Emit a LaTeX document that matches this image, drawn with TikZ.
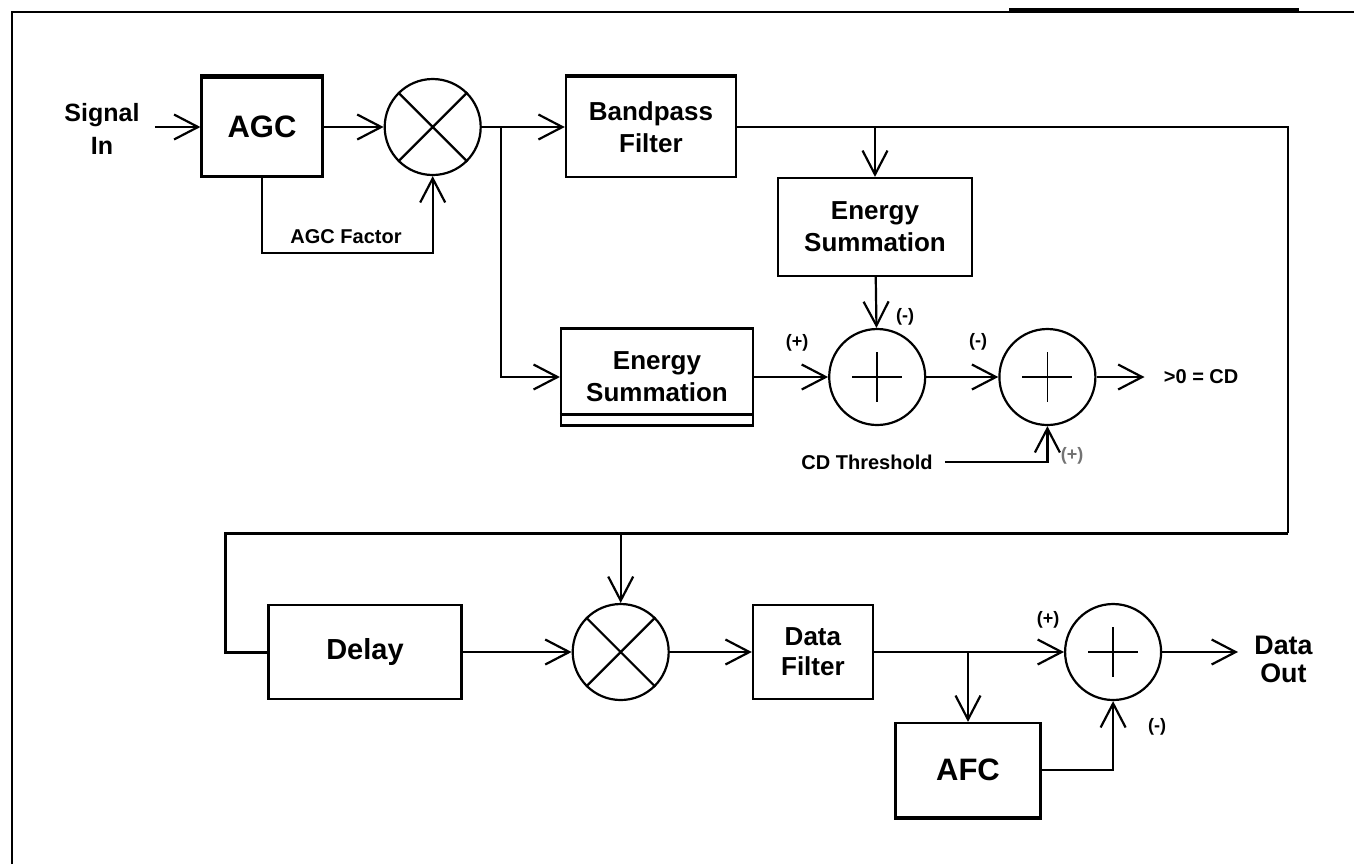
\documentclass[tikz,border=0pt]{standalone}
\usepackage{fontspec}
\setmainfont{Liberation Sans}
\usetikzlibrary{arrows.meta, positioning}

\begin{document}
\begin{tikzpicture}[
    x=0.5pt, y=-0.5pt,
    font=\bfseries,
    box/.style={draw, line width=1.1pt, inner sep=0pt, align=center,
                font=\fontsize{13}{16}\selectfont\bfseries},
    mix/.style={draw, circle, line width=1.1pt, minimum size=48pt, inner sep=0pt},
    sgn/.style={font=\fontsize{9}{10}\selectfont\bfseries, inner sep=0pt},
    lbl/.style={font=\fontsize{10}{12}\selectfont\bfseries, align=center},
    arr/.style={-{Straight Barb[length=12pt, width=12.5pt]}, line width=1.1pt},
    fb/.style={line width=1.5pt},
]
    \useasboundingbox (0,0) rectangle (1354,864);

    %==================== PAGE FRAME ====================
    \draw[line width=0.8pt] (12,864) -- (12,12) -- (1354,12);
    \draw[line width=1.5pt] (1009,9) -- (1299,9);

    %==================== TOP ROW ====================
    \node[lbl, font=\fontsize{12.5}{16.5}\selectfont\bfseries, inner xsep=7.5pt]
        (sigin) at (102,129) {Signal\\In};
    \node[box, font=\fontsize{15.5}{18}\selectfont\bfseries,
          minimum width=60.5pt, minimum height=49.5pt] (agc) at (262,127) {AGC};
    \node[mix, right=30pt of agc] (mixa) {};
    \node[box, minimum width=85pt, minimum height=50pt, right=41.5pt of mixa] (bpf)
        {Bandpass\\Filter};

    \draw[line width=2pt] (agc.north west) -- (agc.north east);
    \draw[line width=2pt] (bpf.north west) -- (bpf.north east);
    \draw[line width=1.1pt] (mixa.north west) -- (mixa.south east)
                            (mixa.north east) -- (mixa.south west);

    \draw[arr] (sigin.east |- agc.west) -- (agc);
    \draw[arr] (agc) -- (mixa);
    \draw[arr] (mixa) -- (bpf);

    % AGC factor loop
    \draw[arr] (agc.south) -- ++(0,75) -| (mixa.south);
    \node[lbl] (agcfac) at (346,237) {AGC Factor};

    %==================== ENERGY / CARRIER DETECT ====================
    \node[box, minimum width=97pt, minimum height=49pt] (esup) at (875,227)
        {Energy\\Summation};
    \node[box, minimum width=96pt, minimum height=48.5pt] (eslow) at (657,377)
        {Energy\\Summation};
    \draw[line width=1.8pt] ([yshift=6pt]eslow.south west) -- ([yshift=6pt]eslow.south east);

    \node[mix, right=37pt of eslow] (suma) {};
    \node[mix, right=36pt of suma] (sumb) {};
    \draw[line width=0.8pt] (suma.center) +(-25,0) -- +(25,0)
                            (suma.center) +(0,-25) -- +(0,25);
    \draw[line width=0.8pt] (sumb.center) +(-25,0) -- +(25,0)
                            (sumb.center) +(0,-25) -- +(0,25);

    \coordinate (brch) at (501,127);
    \draw[arr] (brch) |- (eslow);
    \draw[arr] (esup.north |- bpf.east) -- (esup);
    \draw[arr] (esup) -- (suma);
    \draw[arr] (eslow) -- (suma);
    \draw[arr] (suma) -- (sumb);

    \node[lbl, inner xsep=9.5pt, right=24pt of sumb] (cdout) {>0 = CD};
    \draw[arr] (sumb) -- (cdout);

    \node[lbl, inner xsep=6pt] (cdthr) at (867,462) {CD Threshold};
    \draw[arr] (cdthr.east) -| (sumb.south);

    \node[sgn] (sgna) at (797,343) {(+)};
    \node[sgn] (sgnb) at (905,317) {(-)};
    \node[sgn] (sgnc) at (978,342) {(-)};
    \node[sgn, text=black!55] (sgnd) at (1072,456) {(+)};

    %==================== FEEDBACK TO DEMODULATOR ====================
    \coordinate (lpne) at (1288,127);
    \coordinate (lpse) at (1288,533);
    \coordinate (lpsw) at (225,533);
    \draw[line width=1.1pt] (bpf.east) -- (lpne) -- (lpse);

    %==================== BOTTOM ROW ====================
    \node[box, font=\fontsize{14.5}{17}\selectfont\bfseries,
          minimum width=96.5pt, minimum height=47pt] (delay) at (365,652) {Delay};
    \node[mix, right=54.5pt of delay] (mixb) {};
    \node[box, minimum width=60pt, minimum height=47pt, right=41pt of mixb] (dfilt)
        {Data\\[-1pt]Filter};
    \node[mix, right=95pt of dfilt] (sumc) {};
    \node[box, font=\fontsize{15.5}{18}\selectfont\bfseries,
          minimum width=72.5pt, minimum height=47pt] (afc) at (968,770) {AFC};
    \node[lbl, font=\fontsize{13.4}{14}\selectfont\bfseries, inner xsep=8pt,
          anchor=west] (dout) at (1238,659) {Data\\Out};

    \draw[line width=2pt] (afc.south west) -- (afc.south east);
    \draw[line width=1.1pt] (mixb.north west) -- (mixb.south east)
                            (mixb.north east) -- (mixb.south west);
    \draw[line width=0.8pt] (sumc.center) +(-25,0) -- +(25,0)
                            (sumc.center) +(0,-25) -- +(0,25);

    \draw[fb] (lpse) -- (lpsw) |- (delay.west);
    \draw[arr] (mixb.north |- lpsw) -- (mixb);
    \draw[arr] (delay) -- (mixb);
    \draw[arr] (mixb) -- (dfilt);
    \draw[arr] (dfilt) -- (sumc);
    \draw[arr] (afc.north |- dfilt.east) -- (afc);
    \draw[arr] (afc.east) -| (sumc.south);
    \draw[arr] (sumc.east) -- (sumc.east -| dout.west);

    \node[sgn] (sgne) at (1048,620) {(+)};
    \node[sgn] (sgnf) at (1157,727) {(-)};

\end{tikzpicture}
\end{document}
